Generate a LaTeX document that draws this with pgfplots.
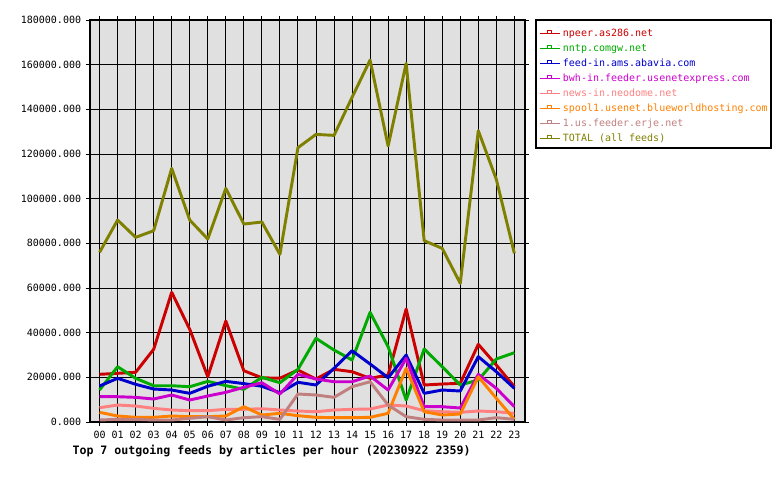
\documentclass[border=0pt]{standalone}
\usepackage{pgfplots}
\pgfplotsset{compat=1.18}
\usepackage{fontspec}
\setmainfont{DejaVu Sans Mono}
\setmonofont{DejaVu Sans Mono}
\definecolor{cred}{HTML}{CC0000}
\definecolor{cgreen}{HTML}{00AA00}
\definecolor{cblue}{HTML}{0000CC}
\definecolor{cmag}{HTML}{CC00CC}
\definecolor{csalmon}{HTML}{FF8080}
\definecolor{corange}{HTML}{FF8000}
\definecolor{crosy}{HTML}{C08080}
\definecolor{colive}{HTML}{808000}
\definecolor{bggray}{HTML}{E0E0E0}
\begin{document}
\begin{tikzpicture}
\path[use as bounding box] (0,0) rectangle (585pt,360pt);
\begin{axis}[
  at={(67.5pt,43.5pt)}, anchor=south west, scale only axis,
  width=326.25pt, height=301.5pt,
  xmin=-0.53, xmax=23.59, ymin=0, ymax=180000,
  axis background/.style={fill=bggray},
  xtick={0,...,23},
  xticklabels={00,01,02,03,04,05,06,07,08,09,10,11,12,13,14,15,16,17,18,19,20,21,22,23},
  ytick={0,20000,40000,60000,80000,100000,120000,140000,160000,180000},
  yticklabels={0.000,20000.000,40000.000,60000.000,80000.000,100000.000,120000.000,140000.000,160000.000,180000.000},
  grid=major, major grid style={black, line width=0.7pt},
  tick style={black, line width=0.75pt}, tick align=outside, major tick length=3pt,
  axis line style={black, line width=0.9pt},
  tick label style={font=\fontsize{7.5}{9}\selectfont},
  yticklabel style={inner sep=0pt, xshift=-3.5pt},
  xticklabel style={inner sep=0pt, yshift=-3.5pt},
  scaled y ticks=false,
  every axis plot/.append style={line width=2.2pt, mark=none, line join=round},
  legend style={draw=none, fill=none, at={(1,1)}, anchor=north west, xshift=10.5pt, yshift=-6pt,
    inner sep=0pt, row sep=3.25pt, column sep=2pt,
    font=\fontsize{7.5}{9}\selectfont,
    nodes={inner sep=0pt, text height=6pt, text depth=2pt}},
  legend cell align=left,
  legend image code/.code={
    \draw[line width=0.75pt] (0pt,0pt) -- (15pt,0pt);
    \draw[line width=0.75pt] (6pt,0pt) rectangle (9pt,2.25pt);
  },
]
\addplot[cred] coordinates {(0,21350)(1,21800)(2,22250)(3,32550)(4,58060)(5,41500)(6,20290)(7,45220)(8,22970)(9,19800)(10,19600)(11,23280)(12,19250)(13,23590)(14,22520)(15,19560)(16,21040)(17,50590)(18,16560)(19,17010)(20,17330)(21,34780)(22,25520)(23,15800)};
\addlegendentry{\textcolor{cred}{npeer.as286.net}}
\addplot[cgreen] coordinates {(0,14330)(1,24760)(2,19560)(3,16250)(4,16250)(5,15800)(6,18200)(7,16300)(8,14630)(9,20000)(10,17600)(11,23590)(12,37470)(13,32230)(14,27760)(15,49110)(16,33710)(17,9850)(18,32680)(19,24760)(20,16560)(21,18800)(22,28200)(23,31030)};
\addlegendentry{\textcolor{cgreen}{nntp.comgw.net}}
\addplot[cblue] coordinates {(0,16120)(1,19560)(2,16880)(3,14770)(4,14330)(5,12830)(6,16000)(7,18200)(8,17200)(9,16000)(10,13100)(11,17770)(12,16560)(13,24040)(14,31920)(15,25970)(16,19830)(17,29990)(18,12830)(19,14330)(20,13880)(21,29250)(22,22520)(23,15080)};
\addlegendentry{\textcolor{cblue}{feed-in.ams.abavia.com}}
\addplot[cmag] coordinates {(0,11330)(1,11330)(2,11040)(3,10300)(4,12090)(5,9850)(6,11640)(7,13290)(8,15530)(9,17600)(10,12540)(11,21350)(12,19250)(13,18040)(14,18040)(15,20590)(16,14330)(17,28500)(18,6850)(19,6850)(20,6270)(21,21350)(22,15080)(23,6850)};
\addlegendentry{\textcolor{cmag}{bwh-in.feeder.usenetexpress.com}}
\addplot[csalmon] coordinates {(0,6400)(1,7610)(2,7160)(3,6130)(4,5370)(5,5060)(6,5060)(7,5680)(8,5680)(9,5950)(10,5370)(11,4920)(12,4610)(13,5370)(14,5680)(15,5820)(16,7610)(17,7160)(18,5060)(19,4610)(20,4340)(21,4920)(22,4610)(23,3890)};
\addlegendentry{\textcolor{csalmon}{news-in.neodome.net}}
\addplot[corange] coordinates {(0,4340)(1,2690)(2,2090)(3,2090)(4,2690)(5,2390)(6,2390)(7,2690)(8,6850)(9,3130)(10,3890)(11,2840)(12,2090)(13,1940)(14,1940)(15,2090)(16,3890)(17,24040)(18,4610)(19,3130)(20,3580)(21,20290)(22,10610)(23,1190)};
\addlegendentry{\textcolor{corange}{spool1.usenet.blueworldhosting.com}}
\addplot[crosy] coordinates {(0,900)(1,1190)(2,1190)(3,900)(4,900)(5,1640)(6,2390)(7,900)(8,1940)(9,2390)(10,1190)(11,12540)(12,12090)(13,11040)(14,15800)(15,18040)(16,7610)(17,2390)(18,1190)(19,900)(20,900)(21,900)(22,1940)(23,1190)};
\addlegendentry{\textcolor{crosy}{1.us.feeder.erje.net}}
\addplot[colive] coordinates {(0,75975)(1,90435)(2,82680)(3,85650)(4,113570)(5,90435)(6,81930)(7,104600)(8,88640)(9,89540)(10,75060)(11,122820)(12,128780)(13,128340)(14,145350)(15,162070)(16,123570)(17,160570)(18,81180)(19,77750)(20,62080)(21,130430)(22,108640)(23,75510)};
\addlegendentry{\textcolor{colive}{TOTAL (all feeds)}}
\end{axis}
\draw[black, line width=0.9pt] (402pt,345pt) rectangle (578.25pt,249pt);
\node[anchor=base west, inner sep=0pt, font=\fontsize{8.7}{10}\selectfont\bfseries] at (54.2pt,18.9pt) {Top 7 outgoing feeds by articles per hour (20230922 2359)};
\end{tikzpicture}
\end{document}
